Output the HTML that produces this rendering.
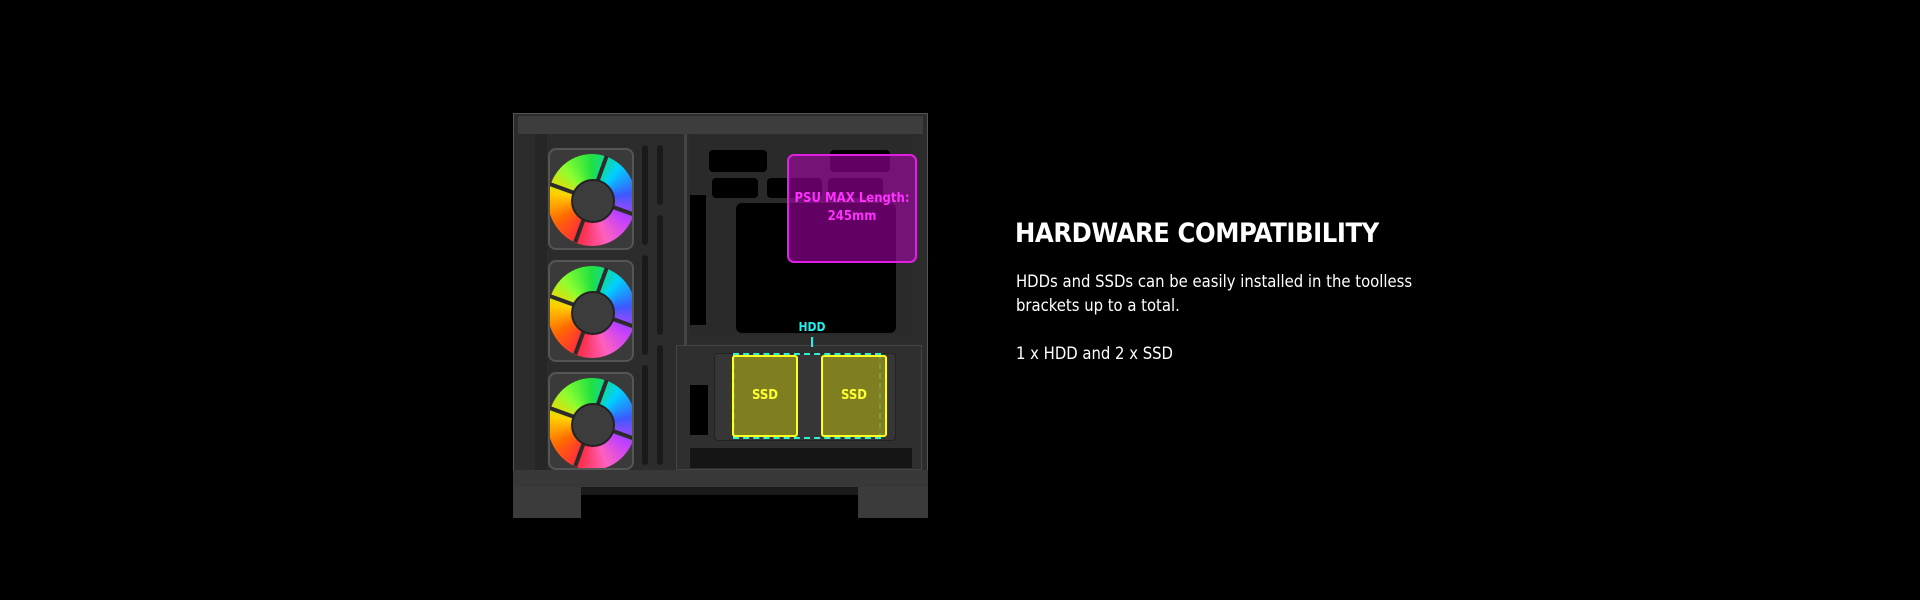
<!DOCTYPE html>
<html><head><meta charset="utf-8"><style>
body{margin:0;width:1920px;height:600px;background:#000;position:relative;overflow:hidden;font-family:"DejaVu Sans Condensed","Liberation Sans",sans-serif}
.a{position:absolute}
.fan{position:absolute;left:548px;width:86px;height:102px;background:#3a3a3a;border-radius:8px;border:2px solid #555;box-sizing:border-box;overflow:hidden}
.fan .c{position:absolute;left:-2px;top:4px;width:88px;height:92px;border-radius:50%;background:conic-gradient(from 200deg,#ff2a40,#ff6a00,#ffd000,#8aff30,#20e040,#00d0ff,#3a5aff,#c040ff,#ff60c0,#ff2a40)}
.fan .h{position:absolute;left:21px;top:29px;width:40px;height:40px;border-radius:50%;background:#3c3c3c;border:2px solid #222}
.fan .b{position:absolute;background:#2b2b2b;height:4px;width:46px;transform-origin:0 50%}
.slot{position:absolute;width:6px;background:#111;border-radius:3px}
</style></head><body>
<!-- case -->
<div class="a" style="left:513px;top:113px;width:415px;height:374px;background:#2c2c2c;border:1px solid #555;box-sizing:border-box"></div>
<div class="a" style="left:518px;top:116px;width:405px;height:18px;background:#3d3d3d"></div>
<div class="a" style="left:513px;top:470px;width:415px;height:17px;background:#383838"></div>
<div class="a" style="left:513px;top:487px;width:68px;height:31px;background:#3b3b3b"></div>
<div class="a" style="left:858px;top:487px;width:70px;height:31px;background:#3b3b3b"></div>
<div class="a" style="left:581px;top:487px;width:277px;height:8px;background:#1a1a1a"></div>
<div class="a" style="left:535px;top:134px;width:12px;height:336px;background:#262626"></div>
<!-- vents -->
<div class="slot" style="left:642px;top:145px;height:100px;background:#1a1a1a"></div>
<div class="slot" style="left:642px;top:255px;height:100px;background:#1a1a1a"></div>
<div class="slot" style="left:642px;top:365px;height:100px;background:#1a1a1a"></div>
<div class="slot" style="left:657px;top:145px;height:60px;background:#1a1a1a"></div>
<div class="slot" style="left:657px;top:215px;height:120px;background:#1a1a1a"></div>
<div class="slot" style="left:657px;top:345px;height:120px;background:#1a1a1a"></div>
<div class="a" style="left:684px;top:134px;width:3px;height:336px;background:#444"></div>
<!-- right interior -->
<div class="a" style="left:690px;top:135px;width:222px;height:200px;background:#2a2a2a"></div>
<div class="a" style="left:736px;top:203px;width:160px;height:130px;background:#000;border-radius:6px"></div>
<div class="a" style="left:709px;top:150px;width:58px;height:22px;background:#000;border-radius:4px"></div>
<div class="a" style="left:712px;top:178px;width:46px;height:20px;background:#000;border-radius:4px"></div>
<div class="a" style="left:767px;top:178px;width:55px;height:20px;background:#000;border-radius:4px"></div>
<div class="a" style="left:830px;top:150px;width:60px;height:22px;background:#000;border-radius:4px"></div>
<div class="a" style="left:828px;top:178px;width:55px;height:20px;background:#000;border-radius:4px"></div>
<div class="a" style="left:690px;top:195px;width:16px;height:130px;background:#000"></div>
<div class="a" style="left:676px;top:345px;width:246px;height:125px;background:#2f2f2f;border:1px solid #444;box-sizing:border-box"></div>
<div class="a" style="left:714px;top:353px;width:182px;height:88px;background:#363636;border:1px solid #222;box-sizing:border-box;border-radius:4px"></div>
<div class="a" style="left:690px;top:385px;width:18px;height:50px;background:#000"></div>
<div class="a" style="left:690px;top:448px;width:222px;height:20px;background:#151515"></div>
<!-- fans -->
<div class="fan" style="top:148px"><div class="c"></div><div class="b" style="left:41px;top:47px;transform:rotate(200deg)"></div><div class="b" style="left:41px;top:47px;transform:rotate(290deg)"></div><div class="b" style="left:41px;top:47px;transform:rotate(20deg)"></div><div class="b" style="left:41px;top:47px;transform:rotate(110deg)"></div><div class="h"></div></div>
<div class="fan" style="top:260px"><div class="c"></div><div class="b" style="left:41px;top:47px;transform:rotate(200deg)"></div><div class="b" style="left:41px;top:47px;transform:rotate(290deg)"></div><div class="b" style="left:41px;top:47px;transform:rotate(20deg)"></div><div class="b" style="left:41px;top:47px;transform:rotate(110deg)"></div><div class="h"></div></div>
<div class="fan" style="top:372px;height:98px"><div class="c"></div><div class="b" style="left:41px;top:47px;transform:rotate(200deg)"></div><div class="b" style="left:41px;top:47px;transform:rotate(290deg)"></div><div class="b" style="left:41px;top:47px;transform:rotate(20deg)"></div><div class="b" style="left:41px;top:47px;transform:rotate(110deg)"></div><div class="h"></div></div>
<!-- PSU -->
<div class="a" style="left:787px;top:154px;width:130px;height:109px;background:rgba(180,0,180,0.55);border:2px solid #e020e0;border-radius:7px;box-sizing:border-box"></div>
<div class="a" style="left:787px;top:190px;width:130px;text-align:center;color:#ff30ff;font-weight:bold;font-size:13px;line-height:18px">PSU MAX Length:<br>245mm</div>
<!-- HDD -->
<div class="a" style="left:796px;top:320px;width:32px;text-align:center;color:#20f0f0;font-weight:bold;font-size:12px">HDD</div>
<div class="a" style="left:811px;top:337px;width:2px;height:10px;background:#20f0f0"></div>
<div class="a" style="left:733px;top:353px;width:148px;height:86px;border:2px dashed #30f0d0;box-sizing:border-box"></div>
<div class="a" style="left:732px;top:355px;width:66px;height:82px;background:rgba(140,140,30,0.85);border:2px solid #ffff20;border-radius:3px;box-sizing:border-box;color:#ffff30;font-weight:bold;font-size:13px;text-align:center;line-height:78px">SSD</div>
<div class="a" style="left:821px;top:355px;width:66px;height:82px;background:rgba(140,140,30,0.85);border:2px solid #ffff20;border-radius:3px;box-sizing:border-box;color:#ffff30;font-weight:bold;font-size:13px;text-align:center;line-height:78px">SSD</div>
<!-- text -->
<div class="a" style="left:1015px;top:218px;color:#fff;font-weight:bold;font-size:27px;letter-spacing:-0.4px;white-space:nowrap">HARDWARE COMPATIBILITY</div>
<div class="a" style="left:1016px;top:270px;color:#fff;font-size:16.5px;line-height:24px;white-space:nowrap">HDDs and SSDs can be easily installed in the toolless<br>brackets up to a total.<br><br>1 x HDD and 2 x SSD</div>
</body></html>
